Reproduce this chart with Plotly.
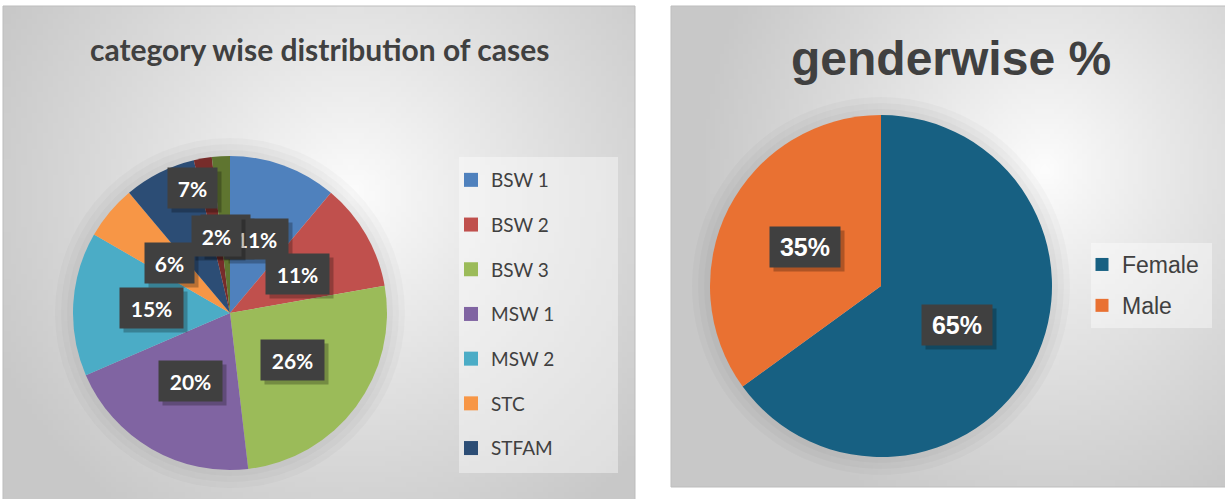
import base64, zlib, struct, math
import plotly.graph_objects as go

W, H = 1225, 499

# ---------------- data ----------------
categories = ["BSW 1", "BSW 2", "BSW 3", "MSW 1", "MSW 2", "STC", "STFAM", "Other 1", "Other 2"]
case_counts = [6, 6, 14, 11, 8, 3, 4, 1, 1]
category_colors = ["#4F81BD", "#C0504D", "#9BBB59", "#8064A2", "#4BACC6",
                   "#F79646", "#2C4D75", "#772C2A", "#5F7530"]
legend_categories = categories[:7]

genders = ["Female", "Male"]
gender_pct = [65, 35]
gender_colors = ["#176082", "#E97132"]

# ---------------- geometry (pixels) ----------------
L_CX, L_CY, L_R = 230, 313, 157
R_CX, R_CY, R_R = 881, 286, 171
L_PANEL = (3, 6, 635, 505)
R_PANEL = (671, 6, 1228, 487)


def px(x):
    return x / W


def py(y):
    return 1 - y / H


def domain(cx, cy, r):
    return dict(x=[px(cx - r), px(cx + r)], y=[py(cy + r), py(cy - r)])


def radial_png(w, h, cx, cy, rx, ry, inner, outer, gamma):
    rows = []
    for j in range(h):
        row = bytearray()
        for i in range(w):
            d = math.hypot((i + 0.5 - cx) / rx, (j + 0.5 - cy) / ry)
            t = min(d, 1.0) ** gamma
            v = int(round(inner + (outer - inner) * t))
            row += bytes((v, v, v))
        rows.append(b"\x00" + bytes(row))
    raw = b"".join(rows)

    def chunk(t, data):
        return struct.pack(">I", len(data)) + t + data + struct.pack(">I", zlib.crc32(t + data) & 0xFFFFFFFF)

    png = (b"\x89PNG\r\n\x1a\n" + chunk(b"IHDR", struct.pack(">IIBBBBB", w, h, 8, 2, 0, 0, 0))
           + chunk(b"IDAT", zlib.compress(raw, 9)) + chunk(b"IEND", b""))
    return "data:image/png;base64," + base64.b64encode(png).decode()


fig = go.Figure()

# pies
fig.add_trace(go.Pie(labels=categories, values=case_counts, sort=False, direction="clockwise",
                     rotation=0, marker=dict(colors=category_colors, line=dict(width=0)),
                     textinfo="none", showlegend=False, domain=domain(L_CX, L_CY, L_R)))
fig.add_trace(go.Pie(labels=genders, values=gender_pct, sort=False, direction="clockwise",
                     rotation=0, marker=dict(colors=gender_colors, line=dict(width=0)),
                     textinfo="none", showlegend=False, domain=domain(R_CX, R_CY, R_R)))

# legend entries
for name, col in zip(legend_categories, category_colors):
    fig.add_trace(go.Scatter(x=[None], y=[None], mode="markers", name=name, legendgroup=name,
                             marker=dict(symbol="square", size=14, color=col), legend="legend"))
for name, col in zip(genders, gender_colors):
    fig.add_trace(go.Scatter(x=[None], y=[None], mode="markers", name=name, legendgroup=name,
                             marker=dict(symbol="square", size=13, color=col), legend="legend2"))

# data labels
annotations = []


def add_labels(values, cx, cy, r, fracs, nudges, font_family, font_size, box_w_base, box_w_char, order):
    total = float(sum(values))
    cum = 0.0
    items = []
    for i, v in enumerate(values):
        mid = (cum + v / 2.0) / total * 2 * math.pi + math.radians(nudges[i])
        cum += v
        f = fracs[i]
        x = cx + f * r * math.sin(mid)
        y = cy - f * r * math.cos(mid)
        txt = f"{round(v / total * 100)}%"
        items.append((x, y, txt))
    for i in order:
        x, y, txt = items[i]
        bw = box_w_base + box_w_char * len(txt)
        common = dict(x=px(x), y=py(y), xref="paper", yref="paper", showarrow=False,
                      xanchor="center", yanchor="middle",
                      width=bw, height=40, borderpad=0, align="center", valign="middle")
        annotations.append(dict(text=" ", bgcolor="rgba(0,0,0,0.25)",
                                font=dict(family=font_family, size=font_size, color="rgba(0,0,0,0)"),
                                xshift=4, yshift=-4, **common))
        annotations.append(dict(text=f"<b>{txt}</b>", bgcolor="#404040",
                                font=dict(family=font_family, size=font_size, color="white"), **common))


add_labels(case_counts, L_CX, L_CY, L_R,
           [0.5, 0.5, 0.5, 0.5, 0.5, 0.5, 0.83, 0.5, 0.5],
           [0, 0, 0, 0, 0, 0, 10, 0, 0],
           "Lato", 21, 21, 14, [8, 0, 1, 2, 3, 4, 5, 6, 7])
add_labels(gender_pct, R_CX, R_CY, R_R, [0.5, 0.5], [0, 0],
           "Liberation Sans, Arial", 25, 19, 17, [0, 1])

# titles
annotations.append(dict(text="<b>category wise distribution of cases</b>", x=px(319), y=py(49),
                        xref="paper", yref="paper", showarrow=False,
                        xanchor="center", yanchor="middle",
                        font=dict(family="Lato", size=30, color="#404040")))
annotations.append(dict(text="<b>genderwise %</b>", x=px(951), y=py(58),
                        xref="paper", yref="paper", showarrow=False,
                        xanchor="center", yanchor="middle",
                        font=dict(family="Liberation Sans, Arial", size=48, color="#404040")))

# backgrounds
images = []
shapes = []
for (x0, y0, x1, y1), (gx, gy) in [(L_PANEL, (0.55, 0.38)), (R_PANEL, (0.67, 0.34))]:
    gw, gh = 120, 96
    src = radial_png(gw, gh, gx * gw, gy * gh, 0.62 * gw, 0.78 * gh, 253, 200, 0.9)
    images.append(dict(source=src, xref="paper", yref="paper", x=px(x0), y=py(y0),
                       sizex=px(x1) - px(x0), sizey=py(y0) - py(y1), sizing="stretch",
                       xanchor="left", yanchor="top", layer="below"))
    shapes.append(dict(type="rect", xref="paper", yref="paper", x0=px(x0), x1=px(x1),
                       y0=py(y1), y1=py(y0), line=dict(color="#BDBDBD", width=1),
                       fillcolor="rgba(0,0,0,0)", layer="below"))

# soft halo around pies
for cx, cy, r in [(L_CX, L_CY, L_R), (R_CX, R_CY, R_R)]:
    for dr in [18, 12, 6]:
        shapes.append(dict(type="circle", xref="paper", yref="paper",
                           x0=px(cx - r - dr), x1=px(cx + r + dr),
                           y0=py(cy + r + dr), y1=py(cy - r - dr),
                           fillcolor="rgba(0,0,0,0.022)", line=dict(width=0), layer="below"))

# legend boxes
for (x0, y0, x1, y1) in [(459, 157, 618, 473), (1091, 243, 1212, 328)]:
    shapes.append(dict(type="rect", xref="paper", yref="paper", x0=px(x0), x1=px(x1),
                       y0=py(y1), y1=py(y0), fillcolor="rgba(255,255,255,0.4)",
                       line=dict(width=0), layer="below"))

fig.update_layout(
    width=W, height=H, margin=dict(l=0, r=0, t=0, b=0),
    paper_bgcolor="white", plot_bgcolor="rgba(0,0,0,0)",
    xaxis=dict(visible=False), yaxis=dict(visible=False),
    images=images, shapes=shapes, annotations=annotations,
    legend=dict(x=px(451), y=py(161), xanchor="left", yanchor="top", bgcolor="rgba(0,0,0,0)",
                font=dict(family="Lato", size=19, color="#404040"), tracegroupgap=17,
                traceorder="grouped"),
    legend2=dict(x=px(1082), y=py(243), xanchor="left", yanchor="top", bgcolor="rgba(0,0,0,0)",
                 font=dict(family="Liberation Sans, Arial", size=23, color="#404040"),
                 tracegroupgap=8, traceorder="grouped"),
)

fig.write_html("out.html", config={"displayModeBar": False},
               post_script="document.body.style.margin='0px';")
